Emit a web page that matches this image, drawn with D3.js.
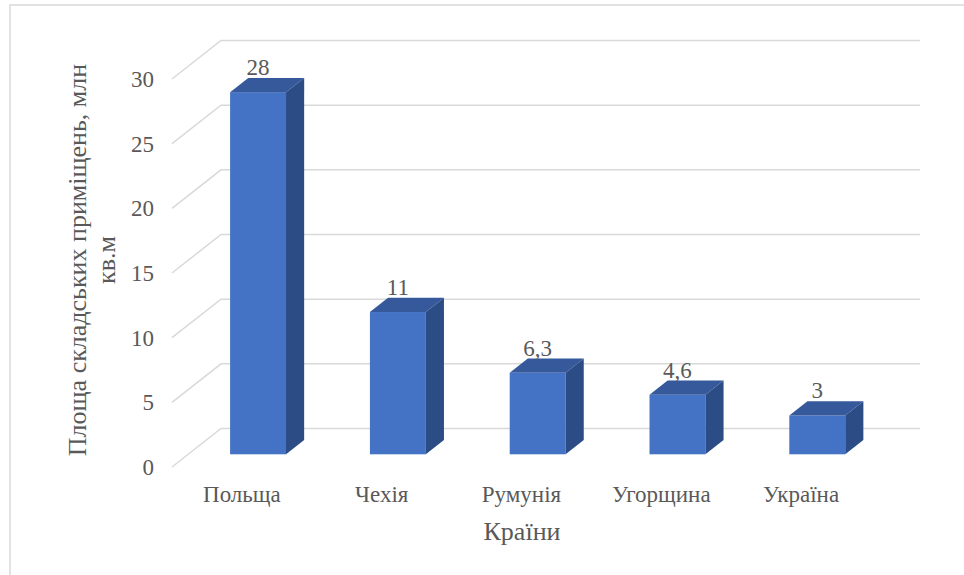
<!DOCTYPE html>
<html><head><meta charset="utf-8"><script src="https://d3js.org/d3.v7.min.js"></script></head>
<body style="margin:0">
<script>
// data
const countries = ["Польща", "Чехія", "Румунія", "Угорщина", "Україна"];
const values = [28, 11, 6.3, 4.6, 3];
const valueLabels = ["28", "11", "6,3", "4,6", "3"];
const yTicks = [0, 5, 10, 15, 20, 25, 30];
const xTitle = "Країни";
const yTitle = ["Площа складських приміщень, млн", "кв.м"];

const width = 964, height = 575;
// 3D depth offset of the whole floor (front -> back wall)
const depthX = 49, depthY = -38.5;
const barFront = 0.33, barBack = 0.70;   // bar depth fractions

const svg = d3.select("body").append("svg")
  .attr("width", width)
  .attr("height", height);

// chart frame (runs off the page on the right / bottom)
svg.append("rect")
  .attr("x", 10).attr("y", 5)
  .attr("width", 1000).attr("height", 600)
  .attr("fill", "none")
  .attr("stroke", "#d9d9d9")
  .attr("stroke-width", 1.5);

const x = d3.scaleBand()
  .domain(countries)
  .range([172, 871])
  .paddingInner(0.6)
  .paddingOuter(0.3);

const y = d3.scaleLinear()
  .domain([0, 30])
  .range([467, 79]);

// gridlines: diagonal on side floor + line on back wall
yTicks.forEach(t => {
  const x0 = x.range()[0], x1 = x.range()[1];
  svg.append("path")
    .attr("d", `M${x0},${y(t)} L${x0 + depthX},${y(t) + depthY} L${x1 + depthX},${y(t) + depthY}`)
    .attr("stroke", "#d9d9d9").attr("stroke-width", 1.5).attr("fill", "none");
});

const addText = (tx, ty, str, size, anchor) => svg.append("text")
  .attr("x", tx).attr("y", ty)
  .attr("font-size", size)
  .attr("text-anchor", anchor)
  .attr("fill", "#595959")
  .style("font-family", '"Liberation Serif"')
  .text(str);

// y tick labels
yTicks.forEach(t => addText(154, y(t) + 8, t, 23, "end"));

// bars
const fdx = depthX * barFront, fdy = depthY * barFront;
const sdx = depthX * (barBack - barFront), sdy = depthY * (barBack - barFront);
countries.forEach((c, i) => {
  const bx = x(c) + fdx;
  const bw = x.bandwidth();
  const top = y(values[i]) + fdy;
  const bot = y(0) + fdy;
  // front
  svg.append("rect")
    .attr("x", bx).attr("y", top)
    .attr("width", bw).attr("height", bot - top)
    .attr("fill", "#4472c4");
  // top
  svg.append("path")
    .attr("d", `M${bx},${top} L${bx + sdx},${top + sdy} L${bx + bw + sdx},${top + sdy} L${bx + bw},${top} Z`)
    .attr("fill", "#35599b");
  // side
  svg.append("path")
    .attr("d", `M${bx + bw},${top} L${bx + bw + sdx},${top + sdy} L${bx + bw + sdx},${bot + sdy} L${bx + bw},${bot} Z`)
    .attr("fill", "#2c4c86");
  // value label
  addText(bx + bw / 2, top + sdy - 3, valueLabels[i], 23, "middle");
});

// category labels
countries.forEach(c => addText(x(c) + x.bandwidth() / 2, 502, c, 23, "middle"));

// axis titles
addText(522, 540, xTitle, 26, "middle");

addText(0, 86, yTitle[0], 26, "middle").attr("transform", "translate(0,260) rotate(-90)");
addText(0, 115, yTitle[1], 26, "middle").attr("transform", "translate(0,260) rotate(-90)");
</script></body></html>
